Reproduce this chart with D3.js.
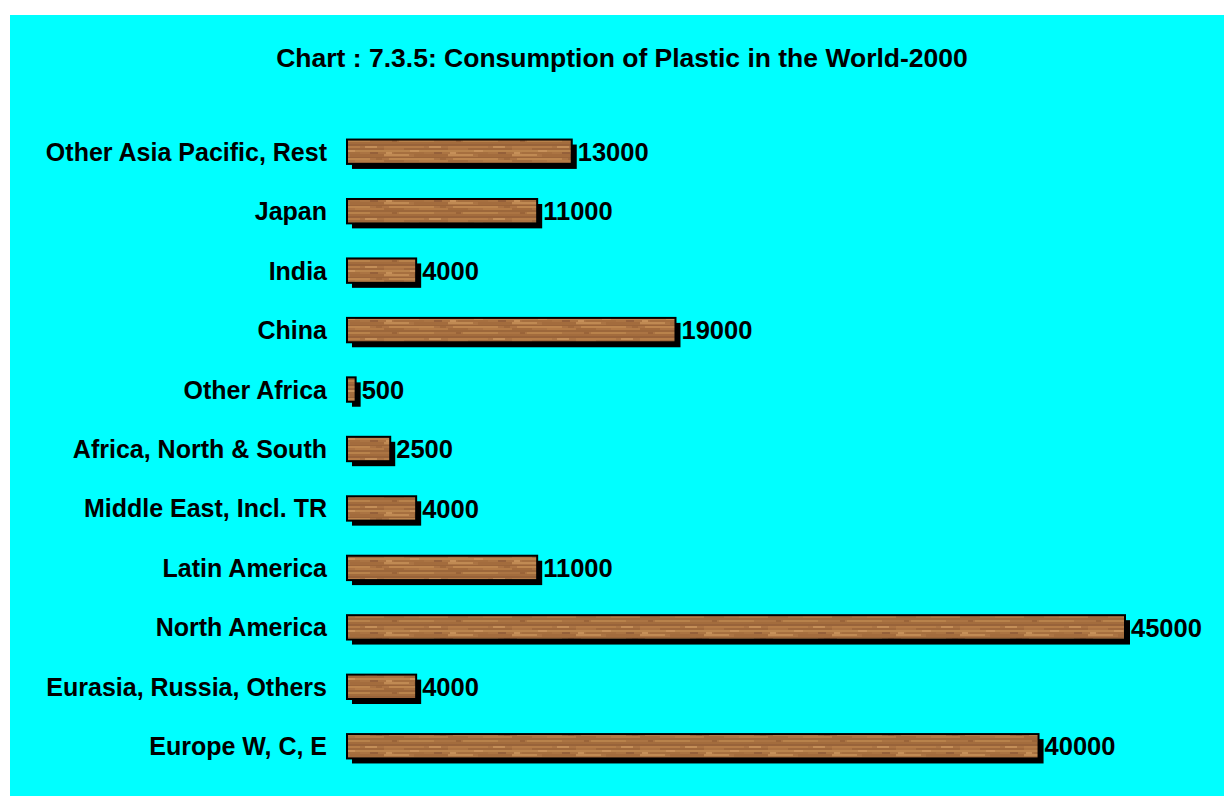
<!DOCTYPE html>
<html><head><meta charset="utf-8">
<script src="https://cdn.jsdelivr.net/npm/d3@7"></script>
<style>html,body{margin:0;padding:0;background:#fff}svg{display:block}</style>
</head><body>
<svg id="c" width="1224" height="796"></svg>
<script>
const categories = ["Other Asia Pacific, Rest","Japan","India","China","Other Africa","Africa, North & South","Middle East, Incl. TR","Latin America","North America","Eurasia, Russia, Others","Europe W, C, E"];
const values = [13000,11000,4000,19000,500,2500,4000,11000,45000,4000,40000];
const title = "Chart : 7.3.5: Consumption of Plastic in the World-2000";

const svg = d3.select("#c");
svg.append("rect").attr("x",10).attr("y",15).attr("width",1214).attr("height",781).attr("fill","#00ffff");

// wood texture pattern
const defs = svg.append("defs");
const pat = defs.append("pattern").attr("id","wood").attr("patternUnits","userSpaceOnUse")
  .attr("width",64).attr("height",24).attr("x",0).attr("y",0);
pat.append("rect").attr("width",64).attr("height",24).attr("fill","#ab7443");
const grain = [
  [0,0,64,2,"#98633a"],[0,2,40,2,"#b57d48"],[20,4,44,2,"#9f693c"],[0,6,64,2,"#b9844d"],
  [10,8,30,2,"#a66f3f"],[0,10,25,2,"#c08a53"],[30,10,34,3,"#a36c3d"],[0,13,64,1,"#9a653a"],
  [5,14,45,2,"#bd864e"],[0,16,20,2,"#a26b3c"],[35,16,29,2,"#b37b46"],[0,18,64,2,"#9c673b"],
  [15,20,35,2,"#b8824b"],[45,2,12,2,"#c48e57"],[2,8,6,2,"#c69059"],[50,8,8,2,"#95603a"],
  [0,22,64,2,"#a36c3d"],[26,6,9,2,"#c7915a"],[56,14,6,2,"#a06a3c"],[8,20,5,2,"#9a6439"]
];
grain.forEach(g=>pat.append("rect").attr("x",g[0]).attr("y",g[1]).attr("width",g[2]).attr("height",g[3]).attr("fill",g[4]));

const font = "Liberation Sans, Arial, sans-serif";
svg.append("text").attr("x",622).attr("y",67).attr("text-anchor","middle")
  .attr("font-family",font).attr("font-weight","bold").attr("font-size",26.5)
  .text(title);

const x = d3.scaleLinear().domain([0,45000]).range([347,1125]);
const y = d3.scaleBand().domain(categories).range([122,776]).paddingInner(0.59).paddingOuter(0.295);

const g = svg.append("g");
const rows = g.selectAll("g.row").data(categories.map((c,i)=>({c,v:values[i]}))).join("g").attr("class","row");
rows.append("rect").attr("x",d=>x(0)+5).attr("y",d=>y(d.c)+5)
  .attr("width",d=>x(d.v)-x(0)).attr("height",y.bandwidth()).attr("fill","#000");
rows.append("rect").attr("x",d=>x(0)).attr("y",d=>y(d.c))
  .attr("width",d=>x(d.v)-x(0)).attr("height",y.bandwidth()).attr("fill","url(#wood)")
  .attr("stroke","#000").attr("stroke-width",2);
rows.append("text").attr("x",327).attr("y",d=>y(d.c)+y.bandwidth()/2).attr("dy","0.36em")
  .attr("text-anchor","end").attr("font-family",font)
  .attr("font-weight","bold").attr("font-size",25).text(d=>d.c);
rows.append("text").attr("x",d=>x(d.v)+6).attr("y",d=>y(d.c)+y.bandwidth()/2).attr("dy","0.36em")
  .attr("font-family",font)
  .attr("font-weight","bold").attr("font-size",25.5).text(d=>d.v);
</script>
</body></html>
